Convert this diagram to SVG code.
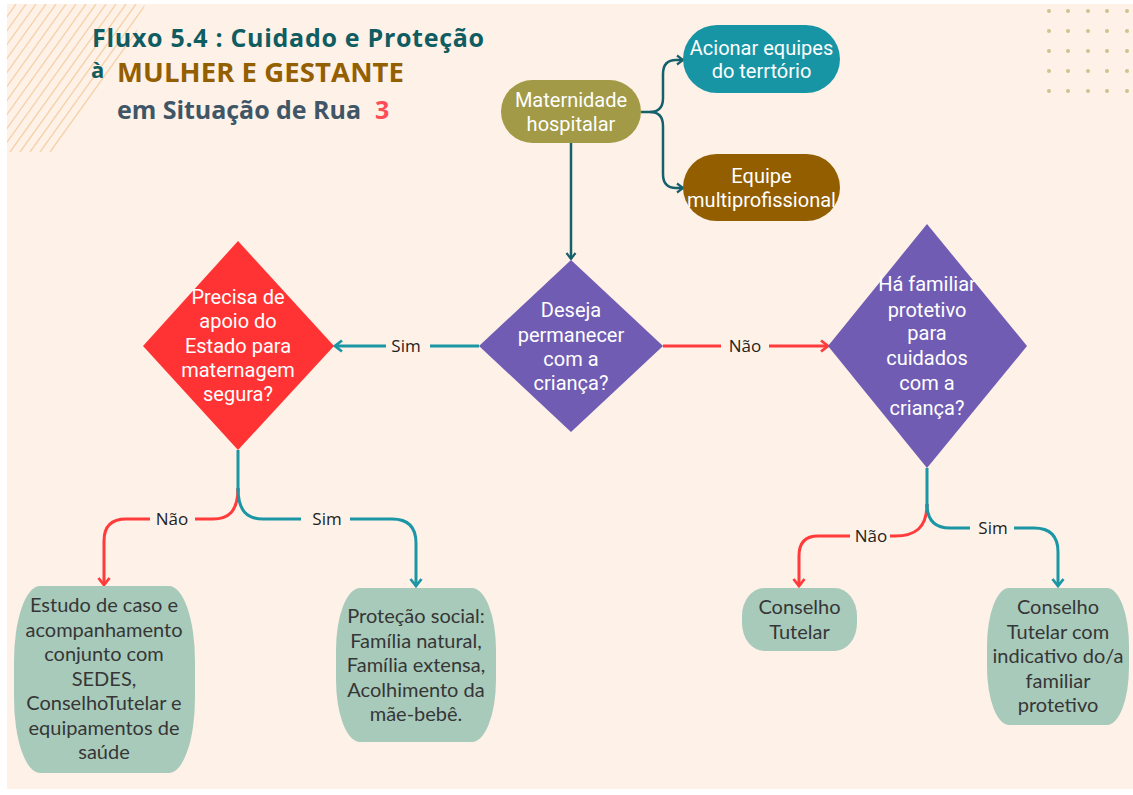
<svg xmlns="http://www.w3.org/2000/svg" width="1133" height="795" viewBox="0 0 1133 795">
<defs>
<style>
.ttl{font-family:"Open Sans",Lato,"Liberation Sans",sans-serif;font-weight:700}
.wt{font-family:Roboto,"Liberation Sans",sans-serif;font-size:20px;fill:#ffffff;text-anchor:middle}
.gt{font-family:Lato,"Noto Sans","Liberation Sans",sans-serif;font-size:20px;fill:#363636;text-anchor:middle}
.lb{font-family:"Open Sans","Noto Sans","Liberation Sans",sans-serif;font-size:17px;fill:#222222;text-anchor:middle}
.green{fill:#a8cabb}
.cD{fill:none;stroke:#15616b;stroke-width:2.5}
.cT{fill:none;stroke:#1b96a4;stroke-width:3}
.cR{fill:none;stroke:#ff3b3b;stroke-width:3}
.hatch{stroke:#f5d2a8;stroke-width:1.3}
.dot{fill:#cdc38e}
</style>
<marker id="mD" markerWidth="12" markerHeight="12" refX="9" refY="6" orient="auto" markerUnits="userSpaceOnUse"><path d="M3,1.5 L9,6 L3,10.5" fill="none" stroke="#15616b" stroke-width="2.2"/></marker>
<marker id="mT" markerWidth="14" markerHeight="14" refX="10" refY="7" orient="auto" markerUnits="userSpaceOnUse"><path d="M3,1.5 L10,7 L3,12.5" fill="none" stroke="#1b96a4" stroke-width="2.8"/></marker>
<marker id="mR" markerWidth="14" markerHeight="14" refX="10" refY="7" orient="auto" markerUnits="userSpaceOnUse"><path d="M3,1.5 L10,7 L3,12.5" fill="none" stroke="#ff3b3b" stroke-width="2.8"/></marker>
<clipPath id="hclip"><polygon points="7,4 145,4 128,60 82,152 7,162"/></clipPath>
</defs>
<rect x="0" y="0" width="1133" height="795" fill="#ffffff"/>
<rect x="7" y="4" width="1126" height="785" fill="#fef1e8"/>
<g id="hatching" clip-path="url(#hclip)">
<line class="hatch" x1="16" y1="4" x2="-90" y2="152"/>
<line class="hatch" x1="26" y1="4" x2="-80" y2="152"/>
<line class="hatch" x1="36" y1="4" x2="-70" y2="152"/>
<line class="hatch" x1="46" y1="4" x2="-60" y2="152"/>
<line class="hatch" x1="56" y1="4" x2="-50" y2="152"/>
<line class="hatch" x1="66" y1="4" x2="-40" y2="152"/>
<line class="hatch" x1="76" y1="4" x2="-30" y2="152"/>
<line class="hatch" x1="86" y1="4" x2="-20" y2="152"/>
<line class="hatch" x1="96" y1="4" x2="-10" y2="152"/>
<line class="hatch" x1="106" y1="4" x2="0" y2="152"/>
<line class="hatch" x1="116" y1="4" x2="10" y2="152"/>
<line class="hatch" x1="126" y1="4" x2="20" y2="152"/>
<line class="hatch" x1="136" y1="4" x2="30" y2="152"/>
<line class="hatch" x1="146" y1="4" x2="40" y2="152"/>
<line class="hatch" x1="156" y1="4" x2="50" y2="152"/>
</g>
<g id="dots">
<circle class="dot" cx="1049" cy="11" r="2"/><circle class="dot" cx="1068" cy="11" r="2"/><circle class="dot" cx="1088" cy="11" r="2"/><circle class="dot" cx="1107" cy="11" r="2"/><circle class="dot" cx="1127" cy="11" r="2"/>
<circle class="dot" cx="1049" cy="31" r="2"/><circle class="dot" cx="1068" cy="31" r="2"/><circle class="dot" cx="1088" cy="31" r="2"/><circle class="dot" cx="1107" cy="31" r="2"/><circle class="dot" cx="1127" cy="31" r="2"/>
<circle class="dot" cx="1049" cy="51" r="2"/><circle class="dot" cx="1068" cy="51" r="2"/><circle class="dot" cx="1088" cy="51" r="2"/><circle class="dot" cx="1107" cy="51" r="2"/><circle class="dot" cx="1127" cy="51" r="2"/>
<circle class="dot" cx="1049" cy="71" r="2"/><circle class="dot" cx="1068" cy="71" r="2"/><circle class="dot" cx="1088" cy="71" r="2"/><circle class="dot" cx="1107" cy="71" r="2"/><circle class="dot" cx="1127" cy="71" r="2"/>
<circle class="dot" cx="1049" cy="91" r="2"/><circle class="dot" cx="1068" cy="91" r="2"/><circle class="dot" cx="1088" cy="91" r="2"/><circle class="dot" cx="1107" cy="91" r="2"/><circle class="dot" cx="1127" cy="91" r="2"/>
</g>
<g id="title">
<text class="ttl" x="92" y="47" font-size="25" fill="#0f5c61" textLength="392">Fluxo 5.4 : Cuidado e Proteção</text>
<text class="ttl" x="91" y="78" font-size="22" fill="#0f5c61">à</text>
<text class="ttl" x="117" y="82" font-size="27.5" fill="#935f00" textLength="287">MULHER E GESTANTE</text>
<text class="ttl" x="117" y="119" font-size="25" fill="#405666" textLength="244">em Situação de Rua</text>
<text class="ttl" x="375" y="119" font-size="25" fill="#ff4d55">3</text>
</g>
<g id="connectors">
<path class="cD" d="M641,112 H650 Q663,112 663,98 V74 Q663,60 676,60 H683" marker-end="url(#mD)"/>
<path class="cD" d="M650,112 Q663,112 663,126 V174 Q663,188 676,188 H683" marker-end="url(#mD)"/>
<path class="cD" d="M571,143 V259" marker-end="url(#mD)"/>
<path class="cT" d="M479,346 H430"/>
<path class="cT" d="M386,346 H335" marker-end="url(#mT)"/>
<text class="lb" x="406" y="352">Sim</text>
<path class="cR" d="M663,346 H721"/>
<path class="cR" d="M769,346 H828" marker-end="url(#mR)"/>
<text class="lb" x="745" y="352">Não</text>
<path class="cT" d="M238,450 V492"/>
<path class="cR" d="M238,488 C238,512 228,519 213,519 H195"/>
<path class="cR" d="M150,519 H126 Q104,519 104,541 V585" marker-end="url(#mR)"/>
<text class="lb" x="172" y="525">Não</text>
<path class="cT" d="M238,488 C238,512 248,519 263,519 H301"/>
<path class="cT" d="M350,519 H392 Q416,519 416,543 V586" marker-end="url(#mT)"/>
<text class="lb" x="327" y="525">Sim</text>
<path class="cT" d="M927,468 V508"/>
<path class="cR" d="M927,504 C927,528 915,536 895,536 H890"/>
<path class="cR" d="M850,536 H818 Q799,536 799,556 V586" marker-end="url(#mR)"/>
<text class="lb" x="871" y="542">Não</text>
<path class="cT" d="M927,504 C927,520 935,528 950,528 H970"/>
<path class="cT" d="M1014,528 H1034 Q1058,528 1058,552 V586" marker-end="url(#mT)"/>
<text class="lb" x="993" y="534">Sim</text>
</g>
<g id="n-maternidade">
<rect x="501" y="80" width="140" height="63" rx="31.5" fill="#a29a46"/>
<text class="wt" x="571" y="107">Maternidade</text>
<text class="wt" x="571" y="131">hospitalar</text>
</g>
<g id="n-acionar">
<rect x="683" y="25" width="157" height="68" rx="34" fill="#1795a5"/>
<text class="wt" x="761.5" y="55">Acionar equipes</text>
<text class="wt" x="761.5" y="78">do terrtório</text>
</g>
<g id="n-equipe">
<rect x="683" y="154" width="157" height="67" rx="33.5" fill="#925e00"/>
<text class="wt" x="761.5" y="183">Equipe</text>
<text class="wt" x="761.5" y="207">multiprofissional</text>
</g>
<g id="n-deseja">
<polygon points="571,260 663,346 571,432 479,346" fill="#705cb3"/>
<text class="wt" x="571" y="317">Deseja</text>
<text class="wt" x="571" y="342">permanecer</text>
<text class="wt" x="571" y="366">com a</text>
<text class="wt" x="571" y="390">criança?</text>
</g>
<g id="n-precisa">
<polygon points="238,241 334,346 238,450 143,346" fill="#ff3333"/>
<text class="wt" x="238" y="304">Precisa de</text>
<text class="wt" x="238" y="328">apoio do</text>
<text class="wt" x="238" y="353">Estado para</text>
<text class="wt" x="238" y="377">maternagem</text>
<text class="wt" x="238" y="401">segura?</text>
</g>
<g id="n-familiar">
<polygon points="927,224 1027,346 927,468 828,346" fill="#705cb3"/>
<text class="wt" x="927" y="291">Há familiar</text>
<text class="wt" x="927" y="317">protetivo</text>
<text class="wt" x="927" y="340">para</text>
<text class="wt" x="927" y="365">cuidados</text>
<text class="wt" x="927" y="390">com a</text>
<text class="wt" x="927" y="415">criança?</text>
</g>
<g id="n-estudo">
<rect class="green" x="14" y="586" width="181" height="187" rx="26" ry="75"/>
<text class="gt" x="104" y="612">Estudo de caso e</text>
<text class="gt" x="104" y="637">acompanhamento</text>
<text class="gt" x="104" y="661">conjunto com</text>
<text class="gt" x="104" y="686">SEDES,</text>
<text class="gt" x="104" y="710">ConselhoTutelar e</text>
<text class="gt" x="104" y="735">equipamentos de</text>
<text class="gt" x="104" y="759">saúde</text>
</g>
<g id="n-protecao">
<rect class="green" x="336" y="588" width="160" height="154" rx="24" ry="62"/>
<text class="gt" x="416" y="623">Proteção social:</text>
<text class="gt" x="416" y="648">Família natural,</text>
<text class="gt" x="416" y="672">Família extensa,</text>
<text class="gt" x="416" y="697">Acolhimento da</text>
<text class="gt" x="416" y="721">mãe-bebê.</text>
</g>
<g id="n-conselho">
<rect class="green" x="742" y="588" width="115" height="63" rx="22" ry="28"/>
<text class="gt" x="799.5" y="614">Conselho</text>
<text class="gt" x="799.5" y="639">Tutelar</text>
</g>
<g id="n-conselho-familiar">
<rect class="green" x="987" y="588" width="142" height="137" rx="22" ry="58"/>
<text class="gt" x="1058" y="614">Conselho</text>
<text class="gt" x="1058" y="639">Tutelar com</text>
<text class="gt" x="1058" y="663">indicativo do/a</text>
<text class="gt" x="1058" y="688">familiar</text>
<text class="gt" x="1058" y="712">protetivo</text>
</g>
</svg>
